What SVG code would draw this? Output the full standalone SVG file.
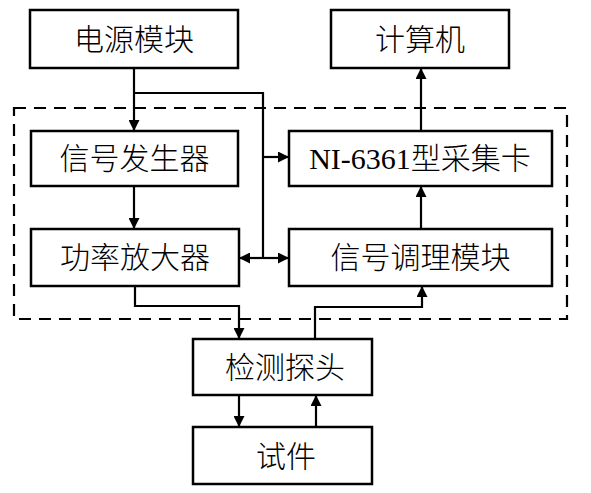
<svg xmlns="http://www.w3.org/2000/svg" width="591" height="493" viewBox="0 0 591 493">
<style>
.box{fill:#fff;stroke:#000;stroke-width:2.5}
.t{font-family:"Liberation Serif","Noto Sans CJK SC",serif;font-size:30px;font-weight:300;fill:#000;text-anchor:middle;dominant-baseline:central}
.c{fill:none;stroke:#000;stroke-width:2.2}
.dash{fill:none;stroke:#000;stroke-width:2.2;stroke-dasharray:12 8}
</style>
<defs>
<marker id="a" markerWidth="11" markerHeight="11" refX="11" refY="5.5" orient="auto" markerUnits="userSpaceOnUse">
<path d="M0,0 L11,5.5 L0,11 Z" fill="#000"/>
</marker>
</defs>
<rect class="dash" x="14" y="108" width="553" height="211"/>
<g id="connectors">
<path class="c" d="M134,68 V131" marker-end="url(#a)"/>
<path class="c" d="M134,93 H263 V258"/>
<path class="c" d="M263,157 H289" marker-end="url(#a)"/>
<path class="c" d="M263,258 H289" marker-end="url(#a)"/>
<path class="c" d="M263,258 H239" marker-end="url(#a)"/>
<path class="c" d="M134,186 V229" marker-end="url(#a)"/>
<path class="c" d="M421,131 V68" marker-end="url(#a)"/>
<path class="c" d="M421,229 V186" marker-end="url(#a)"/>
<path class="c" d="M135,286 V306 H239 V339" marker-end="url(#a)"/>
<path class="c" d="M315,339 V307 H422 V286" marker-end="url(#a)"/>
<path class="c" d="M239,395 V427" marker-end="url(#a)"/>
<path class="c" d="M316,427 V395" marker-end="url(#a)"/>
</g>
<g id="power"><rect class="box" x="30" y="10" width="208" height="58"/><text class="t" x="134" y="39">电源模块</text></g>
<g id="computer"><rect class="box" x="331" y="10" width="178" height="58"/><text class="t" x="420" y="39">计算机</text></g>
<g id="siggen"><rect class="box" x="31" y="131" width="207" height="55"/><text class="t" x="134.5" y="158">信号发生器</text></g>
<g id="daq"><rect class="box" x="289" y="131" width="263" height="55"/><text class="t" x="420" y="158">NI-6361型采集卡</text></g>
<g id="amp"><rect class="box" x="31" y="229" width="208" height="57"/><text class="t" x="135" y="257">功率放大器</text></g>
<g id="cond"><rect class="box" x="289" y="229" width="263" height="57"/><text class="t" x="420.5" y="257">信号调理模块</text></g>
<g id="probe"><rect class="box" x="193" y="339" width="179" height="56"/><text class="t" x="285" y="367">检测探头</text></g>
<g id="specimen"><rect class="box" x="193" y="427" width="179" height="57"/><text class="t" x="286" y="456">试件</text></g>
</svg>
